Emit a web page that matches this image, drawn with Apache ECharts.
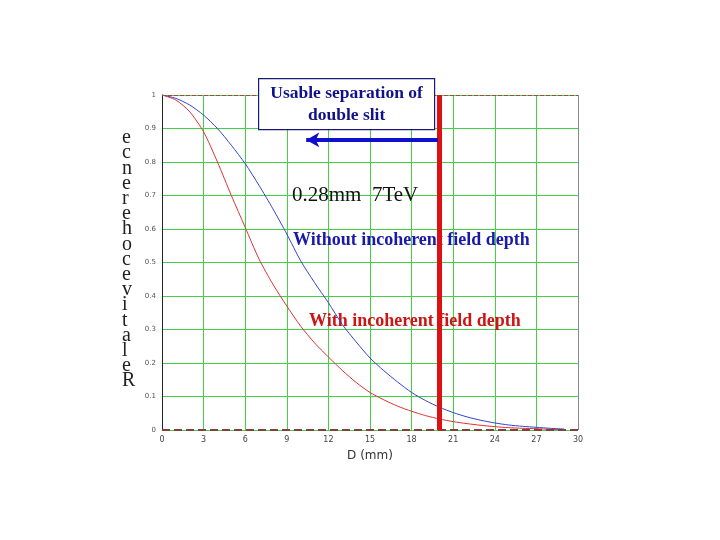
<!DOCTYPE html>
<html>
<head>
<meta charset="utf-8">
<script src="https://cdn.jsdelivr.net/npm/echarts@6/dist/echarts.min.js"></script>
<style>
  html, body { margin: 0; padding: 0; background: #fff; }
  #chart { width: 720px; height: 540px; }
</style>
</head>
<body>
<div id="chart"></div>
<script>
// separation D (mm)
var distances = [0, 1, 2, 3, 4, 5, 6, 7, 8, 9, 10, 11, 12, 13, 14, 15, 16, 17, 18, 19, 20, 21, 22, 23, 24, 25, 26, 27, 28, 29];
// without incoherent field depth (blue)
var withoutIncoherent = [1.0, 0.99, 0.97, 0.94, 0.90, 0.85, 0.795, 0.73, 0.66, 0.585, 0.505, 0.44, 0.38, 0.315, 0.263, 0.215, 0.177, 0.143, 0.112, 0.088, 0.068, 0.052, 0.039, 0.029, 0.021, 0.015, 0.011, 0.008, 0.005, 0.003];
// with incoherent field depth (red)
var withIncoherent = [1.0, 0.985, 0.95, 0.89, 0.80, 0.70, 0.605, 0.51, 0.435, 0.37, 0.31, 0.26, 0.218, 0.178, 0.142, 0.112, 0.09, 0.071, 0.056, 0.043, 0.033, 0.025, 0.019, 0.014, 0.01, 0.007, 0.005, 0.004, 0.002, 0.001];
var slitLimit = 20;

function pairs(ys) {
  return distances.map(function (d, i) { return [d, ys[i]]; });
}

var chart = echarts.init(document.getElementById('chart'));
var option = {
  animation: false,
  backgroundColor: '#fff',
  grid: { left: 162, right: 142, top: 95, bottom: 110 },
  xAxis: {
    type: 'value', min: 0, max: 30, interval: 3,
    name: 'D (mm)', nameLocation: 'middle', nameGap: 20,
    nameTextStyle: { fontFamily: 'DejaVu Sans', fontSize: 12, color: '#333' },
    axisLine: { show: false },
    axisTick: { show: false },
    axisLabel: { fontFamily: 'DejaVu Sans', fontSize: 8, color: '#444', margin: 6 },
    splitLine: { show: true, lineStyle: { color: '#44d044', width: 1 } }
  },
  yAxis: {
    type: 'value', min: 0, max: 1, interval: 0.1,
    axisLine: { show: true, onZero: false, lineStyle: { color: '#222', width: 1 } },
    axisTick: { show: false },
    axisLabel: {
      fontFamily: 'DejaVu Sans', fontSize: 7, color: '#555', margin: 6,
      formatter: function (v) { return +v.toFixed(1) + ''; }
    },
    splitLine: { show: true, lineStyle: { color: '#44d044', width: 1 } }
  },
  series: [
    {
      name: 'frame', type: 'line', data: [], silent: true,
      markLine: {
        symbol: ['none', 'none'], silent: true, label: { show: false },
        data: [
          { yAxis: 1, lineStyle: { color: '#a04848', type: 'dashed', width: 1 } },
          { yAxis: 0, lineStyle: { color: '#804040', type: 'dashed', width: 2 } },
          { xAxis: 30, lineStyle: { color: '#888', type: 'solid', width: 1 } }
        ]
      }
    },
    {
      name: 'Without incoherent field depth', type: 'line', smooth: 0.25,
      showSymbol: false, data: pairs(withoutIncoherent),
      lineStyle: { color: '#3344cc', width: 1 }
    },
    {
      name: 'With incoherent field depth', type: 'line', smooth: 0.25,
      showSymbol: false, data: pairs(withIncoherent),
      lineStyle: { color: '#dd3333', width: 1 }
    },
    {
      name: 'limit', type: 'line', data: [], silent: true, z: 5,
      markLine: {
        symbol: ['none', 'none'], silent: true, label: { show: false },
        lineStyle: { color: '#dd1111', type: 'solid', width: 5 },
        data: [{ xAxis: slitLimit }]
      }
    },
    {
      name: 'arrow', type: 'line', data: [], silent: true, z: 6,
      markLine: {
        symbol: ['none', 'arrow'], symbolSize: [11, 13], silent: true, label: { show: false },
        lineStyle: { color: '#1010cc', type: 'solid', width: 4 },
        data: [[{ coord: [slitLimit - 0.1, 0.866] }, { coord: [10.4, 0.866] }]]
      }
    }
  ],
  graphic: [
    {
      type: 'group', left: 258, top: 78, z: 10,
      children: [
        {
          type: 'rect', z: 10, shape: { x: 0, y: 0, width: 176, height: 51 },
          style: { fill: '#fff', stroke: '#1a1a7a', lineWidth: 1.2 }
        },
        {
          type: 'text', x: 88, y: 4, z: 11,
          style: {
            text: 'Usable separation of\ndouble slit', align: 'center', verticalAlign: 'top',
            font: 'bold 17.5px "Liberation Serif"', fill: '#11118a', lineHeight: 22
          }
        }
      ]
    },
    {
      type: 'text', left: 292, top: 185, z: 1,
      style: { text: '0.28mm  7TeV', font: '21px "Liberation Serif"', fill: '#111' }
    },
    {
      type: 'text', left: 293, top: 231, z: 1,
      style: { text: 'Without incoherent field depth', font: 'bold 18px "Liberation Serif"', fill: '#1a1aaa' }
    },
    {
      type: 'text', left: 309, top: 312, z: 1,
      style: { text: 'With incoherent field depth', font: 'bold 18px "Liberation Serif"', fill: '#cc1515' }
    },
    {
      type: 'text', left: 122, top: 128, z: 11,
      style: {
        text: 'ecnerehocevitaleR'.split('').join('\n'),
        font: '20px "Liberation Serif"', fill: '#222', lineHeight: 15.2, align: 'center'
      }
    }
  ]
};
chart.setOption(option);
</script>
</body>
</html>
